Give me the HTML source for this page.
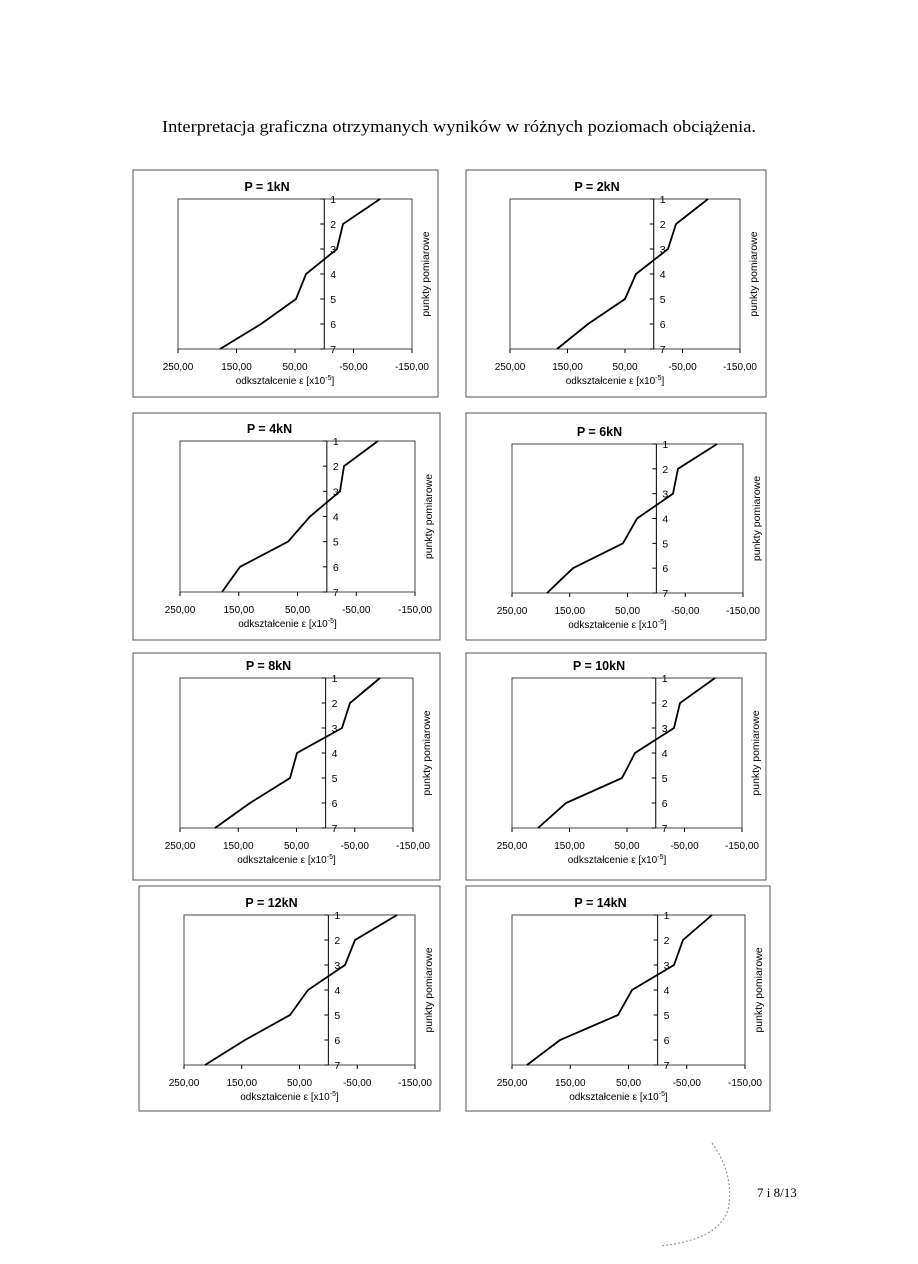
<!DOCTYPE html>
<html><head><meta charset="utf-8"><style>
html,body{margin:0;padding:0;background:#fff}
svg{display:block}
</style></head><body>
<svg id="s" width="918" height="1264" xmlns="http://www.w3.org/2000/svg" font-family="Liberation Sans, Arial, sans-serif">
<text x="459" y="132" text-anchor="middle" font-family="Liberation Serif, serif" font-size="17" textLength="594" lengthAdjust="spacingAndGlyphs">Interpretacja graficzna otrzymanych wyników w różnych poziomach obciążenia.</text>
<text x="757" y="1197" font-family="Liberation Serif, serif" font-size="13">7 i 8/13</text>
<path d="M712,1143 Q735,1175 728,1210 Q718,1240 660,1246" fill="none" stroke="#999" stroke-width="1.2" stroke-dasharray="2,2"/>
</svg>
<script>
var charts=[
["P = 1kN",133,170,438,397,178,412,199,349,[380,343,337,306,296,261,220]],
["P = 2kN",466,170,766,397,510,740,199,349,[708,676,668,636,625,588,557]],
["P = 4kN",133,413,440,640,180,415,441,592,[378,344,340,310,288,240,222]],
["P = 6kN",466,413,766,640,512,743,444,593,[717,678,673,637,623,573,547]],
["P = 8kN",133,653,440,880,180,413,678,828,[380,350,342,297,290,250,215]],
["P = 10kN",466,653,766,880,512,742,678,828,[715,680,674,635,622,566,538]],
["P = 12kN",139,886,440,1111,184,415,915,1065,[397,355,345,308,290,245,205]],
["P = 14kN",466,886,770,1111,512,745,915,1065,[712,683,674,632,618,560,527]]
];
var s=document.getElementById('s'),h='';
charts.forEach(function(c){
 var t=c[0],X0=c[1],Y0=c[2],X1=c[3],Y1=c[4],L=c[5],R=c[6],T=c[7],B=c[8],p=c[9];
 h+='<rect x="'+X0+'" y="'+Y0+'" width="'+(X1-X0)+'" height="'+(Y1-Y0)+'" fill="none" stroke="#555" stroke-width="1"/>';
 h+='<rect x="'+L+'" y="'+T+'" width="'+(R-L)+'" height="'+(B-T)+'" fill="none" stroke="#444" stroke-width="1"/>';
 var cx=(L+R)/2;
 h+='<text x="'+(cx-28)+'" y="'+(T-8)+'" text-anchor="middle" font-size="12.5" font-weight="bold">'+t+'</text>';
 var z=L+(R-L)*250/400, st=(B-T)/6;
 h+='<line x1="'+z+'" y1="'+T+'" x2="'+z+'" y2="'+B+'" stroke="#000" stroke-width="1"/>';
 for(var i=0;i<7;i++){var y=T+st*i;
  h+='<line x1="'+(z-4)+'" y1="'+y+'" x2="'+z+'" y2="'+y+'" stroke="#000"/>';
  h+='<text x="'+(z+6)+'" y="'+(y+4)+'" font-size="10.5">'+(i+1)+'</text>';}
 var lab=['250,00','150,00','50,00','-50,00','-150,00'];
 for(var k=0;k<5;k++){var x=L+(R-L)*k/4;
  h+='<line x1="'+x+'" y1="'+B+'" x2="'+x+'" y2="'+(B+4)+'" stroke="#000"/>';
  h+='<text x="'+x+'" y="'+(B+21)+'" text-anchor="middle" font-size="10">'+lab[k]+'</text>';}
 h+='<text x="'+(cx-10)+'" y="'+(B+35)+'" text-anchor="middle" font-size="10">odkształcenie ε [x10<tspan dy="-4" font-size="7">-5</tspan><tspan dy="4">]</tspan></text>';
 h+='<text transform="translate('+(R+17)+','+((T+B)/2)+') rotate(-90)" text-anchor="middle" font-size="10.5">punkty pomiarowe</text>';
 var d='';for(var i=0;i<7;i++){d+=(i?'L':'M')+p[i]+','+(T+st*i);}
 h+='<path d="'+d+'" fill="none" stroke="#000" stroke-width="1.8"/>';
});
s.insertAdjacentHTML('beforeend',h);
</script>
</body></html>
